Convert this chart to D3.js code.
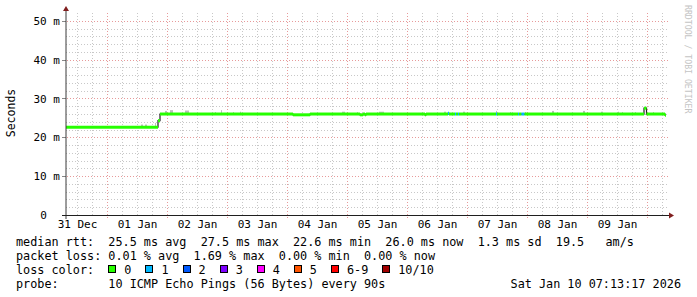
<!DOCTYPE html>
<html><head><meta charset="utf-8">
<script src="https://cdn.jsdelivr.net/npm/d3@7"></script>
<style>
html,body{margin:0;padding:0;background:#fff;}
svg{display:block;}
text{font-family:"DejaVu Sans Mono",monospace;}
</style></head><body>
<svg id="chart" width="697" height="297"></svg>
<script>
// ---------- data ----------
const timeDomain = ["2025-12-31T07:36", "2026-01-10T07:36"];
const yDomain = [0, 51.5];
const yTickValues = [0, 10, 20, 30, 40, 50];

// median rtt (ms) as a step series, with loss level index per step
const medianTimes = [
  "2025-12-31T07:36", "2026-01-01T20:24", "2026-01-01T21:12",
  "2026-01-04T02:24", "2026-01-04T09:12",
  "2026-01-05T05:12", "2026-01-05T06:24", "2026-01-05T07:12", "2026-01-05T07:36",
  "2026-01-06T07:12", "2026-01-06T07:36",
  "2026-01-06T16:24", "2026-01-06T16:48",
  "2026-01-06T19:12", "2026-01-06T19:36",
  "2026-01-06T20:24", "2026-01-06T20:48",
  "2026-01-07T11:36", "2026-01-07T12:00",
  "2026-01-07T20:24", "2026-01-07T20:48",
  "2026-01-07T21:48", "2026-01-07T23:00",
  "2026-01-09T22:48", "2026-01-09T23:48",
  "2026-01-10T07:12", "2026-01-10T07:36"
];
const medianValues = [
  22.6, 24.3, 26.0,
  25.8, 26.0,
  25.8, 26.0, 25.8, 26.0,
  25.8, 26.0,
  26.2, 26.0,
  26.0, 26.0,
  26.0, 26.0,
  26.0, 26.0,
  26.0, 26.0,
  26.0, 26.0,
  27.5, 26.0,
  25.7, 25.7
];
const lossLevels = [
  0, 0, 0,
  0, 0,
  0, 0, 0, 0,
  0, 0,
  1, 0,
  1, 0,
  1, 0,
  1, 0,
  1, 0,
  1, 0,
  0, 0,
  0, 0
];

// smoke (ping spread) visible above the median band
const smokeStarts = [
  "2026-01-01T13:36", "2026-01-01T15:12", "2026-01-01T19:12",
  "2026-01-01T23:12", "2026-01-02T01:12", "2026-01-02T07:12",
  "2026-01-02T19:12", "2026-01-02T21:36", "2026-01-03T02:24", "2026-01-03T05:12",
  "2026-01-04T22:00", "2026-01-05T04:00", "2026-01-05T12:48",
  "2026-01-06T14:48", "2026-01-06T22:24", "2026-01-07T11:36", "2026-01-07T17:12",
  "2026-01-07T23:12", "2026-01-08T10:00", "2026-01-08T22:24", "2026-01-09T05:36",
  "2026-01-09T12:24", "2026-01-09T14:00", "2026-01-09T19:12", "2026-01-10T02:24"
];
const smokeEnds = [
  "2026-01-01T14:24", "2026-01-01T16:00", "2026-01-01T19:36",
  "2026-01-02T00:00", "2026-01-02T02:24", "2026-01-02T08:48",
  "2026-01-02T19:36", "2026-01-02T22:00", "2026-01-03T02:48", "2026-01-03T05:36",
  "2026-01-04T23:12", "2026-01-05T04:24", "2026-01-05T14:48",
  "2026-01-06T15:36", "2026-01-06T23:12", "2026-01-07T12:00", "2026-01-07T17:36",
  "2026-01-07T23:36", "2026-01-08T10:48", "2026-01-08T23:12", "2026-01-09T06:24",
  "2026-01-09T12:48", "2026-01-09T14:24", "2026-01-09T19:36", "2026-01-10T02:48"
];
const smokeTops = [
  23.3, 23.3, 23.7,
  26.8, 27.0, 26.9,
  26.5, 27.0, 26.5, 26.6,
  26.6, 26.5, 26.6,
  26.6, 26.6, 26.8, 26.5,
  26.5, 26.8, 26.8, 26.6,
  26.6, 26.5, 26.5, 26.5
];

const lossLabels = ["0", "1", "2", "3", "4", "5", "6-9", "10/10"];
const lossColors = ["#26ff00", "#00b8ff", "#0059ff", "#7e00ff", "#ff00ff", "#ff5500", "#ff0000", "#a10000"];

const rttValues = [25.5, 27.5, 22.6, 26.0, 1.3];
const rttNames = ["avg", "max", "min", "now", "sd"];
const amsValue = 19.5;
const lossValues = [0.01, 1.69, 0.00, 0.00];
const lossNames = ["avg", "max", "min", "now"];
const probeText = "10 ICMP Echo Pings (56 Bytes) every 90s";
const stampText = "Sat Jan 10 07:13:17 2026";
const yTitle = "Seconds";
const watermark = "RRDTOOL / TOBI OETIKER";

// ---------- drawing ----------
const parse = d3.utcParse("%Y-%m-%dT%H:%M");
const svg = d3.select("#chart");
const x = d3.scaleUtc().domain(timeDomain.map(parse)).range([66, 666]);
const y = d3.scaleLinear().domain(yDomain).range([215, 15]);
const [x0, x1] = x.range();
const [yb, yt] = y.range();
const mono = "DejaVu Sans Mono, monospace";

// background
svg.append("rect").attr("width", 697).attr("height", 297).attr("fill", "#fff");

// grid
const grid = svg.append("g");
const dash = "1,2";
const minorY = d3.range(2, yDomain[1], 2).filter(v => v % 10 !== 0);
grid.selectAll(".hmin").data(minorY).join("line")
  .attr("x1", x0).attr("x2", x1 + 2)
  .attr("y1", d => Math.round(y(d)) + 0.5).attr("y2", d => Math.round(y(d)) + 0.5)
  .attr("stroke", "#c8c8c8").attr("stroke-dasharray", dash);
const [t0, t1] = x.domain();
const hours6 = d3.utcHour.every(6).range(t0, t1).filter(d => d.getUTCHours() !== 0);
grid.selectAll(".vmin").data(hours6).join("line")
  .attr("x1", d => Math.round(x(d)) + 0.5).attr("x2", d => Math.round(x(d)) + 0.5)
  .attr("y1", yt - 2).attr("y2", yb)
  .attr("stroke", "#c8c8c8").attr("stroke-dasharray", dash);
const majorY = yTickValues.filter(v => v > 0);
grid.selectAll(".hmaj").data(majorY).join("line")
  .attr("x1", x0 - 2).attr("x2", x1 + 2)
  .attr("y1", d => Math.round(y(d)) + 0.5).attr("y2", d => Math.round(y(d)) + 0.5)
  .attr("stroke", "#e79a9a").attr("stroke-dasharray", dash);
const days = d3.utcDay.range(t0, t1);
grid.selectAll(".vmaj").data(days).join("line")
  .attr("x1", d => Math.round(x(d)) + 0.5).attr("x2", d => Math.round(x(d)) + 0.5)
  .attr("y1", yt - 2).attr("y2", yb + 3)
  .attr("stroke", "#e79a9a").attr("stroke-dasharray", dash);

// data records
const med = medianTimes.map((t, i) => ({t: parse(t), v: medianValues[i], l: lossLevels[i]}));
const segs = med.slice(0, -1).map((d, i) => ({...d, t2: med[i + 1].t}));

// smoke
svg.append("g").selectAll("rect").data(smokeStarts.map((s, i) => ({s: parse(s), e: parse(smokeEnds[i]), top: smokeTops[i]})))
  .join("rect")
  .attr("x", d => x(d.s)).attr("width", d => Math.max(1, x(d.e) - x(d.s)))
  .attr("y", d => y(d.top))
  .attr("height", d => {
    const seg = segs.find(s => s.t <= d.s && d.s < s.t2) || segs[0];
    return Math.max(0, y(seg.v) - y(d.top));
  })
  .attr("fill", "#bdbdbd");

// black median line
svg.append("path")
  .datum(med)
  .attr("d", d3.line().x(d => x(d.t)).y(d => y(d.v)).curve(d3.curveStepAfter))
  .attr("fill", "none").attr("stroke", "#202020").attr("stroke-width", 1.2);

// loss-colored median band
svg.append("g").selectAll("rect").data(segs).join("rect")
  .attr("x", d => x(d.t)).attr("width", d => x(d.t2) - x(d.t))
  .attr("y", d => y(d.v) - 1.5).attr("height", 3)
  .attr("fill", d => lossColors[d.l]);

// axes (labels via d3 axes)
const noons = d3.utcDay.range(d3.utcDay.floor(t0), t1).map(d => d3.utcHour.offset(d, 12)).filter(d => d >= t0 && d <= t1);
const gx = svg.append("g").attr("transform", `translate(0,${yb})`)
  .call(d3.axisBottom(x).tickValues(noons).tickFormat(d3.utcFormat("%d %b")).tickSize(0).tickPadding(5));
gx.select(".domain").remove();
gx.attr("font-family", mono).attr("font-size", 11);
gx.selectAll("text").attr("fill", "#000");

const gy = svg.append("g").attr("transform", `translate(${x0},0)`)
  .call(d3.axisLeft(y).tickValues(yTickValues).tickFormat(d => d === 0 ? "0" : `${d} m`).tickSize(0).tickPadding(6));
gy.select(".domain").remove();
gy.attr("font-family", mono).attr("font-size", 11);
gy.selectAll("text").attr("fill", "#000").attr("dx", d => d === 0 ? "-1.2em" : 0);

// y major ticks
svg.append("g").selectAll("line").data(yTickValues).join("line")
  .attr("x1", x0 - 4).attr("x2", x0)
  .attr("y1", d => Math.round(y(d)) + 0.5).attr("y2", d => Math.round(y(d)) + 0.5)
  .attr("stroke", "#888");

// axis lines + arrows
svg.append("line").attr("x1", x0).attr("x2", x0).attr("y1", yb + 4).attr("y2", yt - 4)
  .attr("stroke", "#3a3a3a").attr("stroke-width", 1);
svg.append("line").attr("x1", x0 - 4).attr("x2", x1 + 4).attr("y1", yb + 0.5).attr("y2", yb + 0.5)
  .attr("stroke", "#1f1f1f").attr("stroke-width", 1);
svg.append("path").attr("d", `M${x0 - 3},${yt - 4} L${x0 + 3},${yt - 4} L${x0},${yt - 9} Z`).attr("fill", "#801f1f");
svg.append("path").attr("d", `M${x1 + 3},${yb - 2.5} L${x1 + 3},${yb + 3.5} L${x1 + 8},${yb + 0.5} Z`).attr("fill", "#801f1f");

// y title
svg.append("text").attr("transform", `translate(15,113) rotate(-90)`)
  .attr("text-anchor", "middle").attr("font-family", "DejaVu Sans, sans-serif").attr("font-size", 11.5)
  .attr("fill", "#000").text(yTitle);

// watermark
svg.append("text").attr("transform", `translate(685,5) rotate(90)`)
  .attr("font-family", mono).attr("font-size", 8.2).attr("fill", "#c4c4c4").text(watermark);

// legend
const fs = 11.8, cw = fs * 0.602, lx = 16;
const row1 = "median rtt:  " + rttValues.map((v, i) => `${v.toFixed(1)} ms ${rttNames[i]}`).join("  ") + `  ${amsValue.toFixed(1)}   am/s`;
const row2 = "packet loss: " + lossValues.map((v, i) => `${v.toFixed(2)} % ${lossNames[i]}`).join("  ");
const row4 = "probe:       " + probeText;
const leg = svg.append("g").attr("font-family", mono).attr("font-size", fs).attr("fill", "#000");
[[row1, 245.5], [row2, 259.5], ["loss color:", 273.5], [row4, 287.5]].forEach(([s, yy]) => {
  leg.append("text").attr("x", lx).attr("y", yy).attr("xml:space", "preserve").style("white-space", "pre").text(s);
});
leg.append("text").attr("x", 681).attr("y", 287.5).attr("text-anchor", "end").text(stampText);

let bx = lx + cw * 13;
lossLabels.forEach((lab, i) => {
  leg.append("rect").attr("x", Math.round(bx) + 0.5).attr("y", 265.5).attr("width", 7).attr("height", 7)
    .attr("fill", lossColors[i]).attr("stroke", "#000").attr("stroke-width", 1);
  leg.append("text").attr("x", bx + 16).attr("y", 273.5).text(lab);
  bx += 16 + lab.length * cw + 14;
});
</script>
</body></html>
